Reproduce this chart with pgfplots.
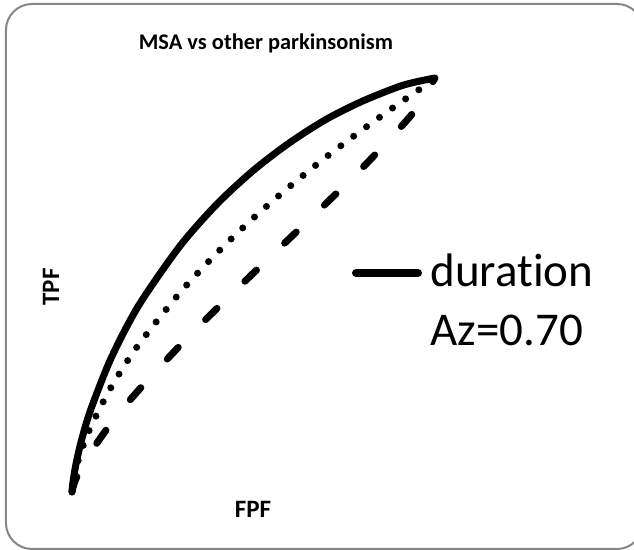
\documentclass[border=0pt]{standalone}
\usepackage{fontspec}
\setmainfont{Carlito}[Ligatures=CommonOff]
\usepackage{pgfplots}
\pgfplotsset{compat=1.18}
\definecolor{framegray}{RGB}{134,134,134}
\begin{document}
\begin{tikzpicture}
\clip (0,0) rectangle (317pt,275pt);
\draw[framegray, line width=1pt, rounded corners=13pt] (3pt,0.5pt) rectangle (321.5pt,273pt);
\begin{axis}[
  at={(36pt,29pt)}, anchor=south west,
  scale only axis, width=181.5pt, height=207pt,
  xmin=0, xmax=1, ymin=0, ymax=1,
  axis lines=none, ticks=none, clip=false,
]
% solid
\addplot[black, line width=3.5pt, smooth] coordinates {
(0,0) (0.002,0.019) (0.01,0.063) (0.025,0.121) (0.05,0.195) (0.1,0.308)
(0.15,0.398) (0.2,0.473) (0.3,0.597) (0.4,0.696) (0.5,0.777) (0.6,0.844)
(0.7,0.900) (0.8,0.944) (0.9,0.979) (0.95,0.991) (1,1)};
% dotted
\addplot[black, line width=3.5pt, line cap=round, dash pattern=on 0pt off 8pt, smooth] coordinates {
(0,0) (0.002,0.018) (0.01,0.053) (0.025,0.098) (0.05,0.154) (0.1,0.241)
(0.15,0.313) (0.2,0.375) (0.3,0.484) (0.4,0.578) (0.5,0.662) (0.6,0.738)
(0.7,0.809) (0.8,0.875) (0.9,0.938) (0.95,0.968) (1,1)};
% dashed
\addplot[black, line width=3.5pt, line cap=round, dash pattern=on 8pt off 19.5pt, smooth] coordinates {
(0,0) (0.002,0.009) (0.01,0.030) (0.025,0.057) (0.05,0.094) (0.1,0.157)
(0.15,0.212) (0.2,0.262) (0.3,0.356) (0.4,0.444) (0.5,0.529) (0.6,0.613)
(0.7,0.697) (0.8,0.783) (0.9,0.876) (0.95,0.928) (1,1)};
\end{axis}
\node[anchor=base, inner sep=0pt, font=\fontsize{11.2}{13}\selectfont\bfseries] at (133pt,250pt) {MSA vs other parkinsonism};
\node[anchor=base, rotate=90, inner sep=0pt, font=\fontsize{12.5}{15}\selectfont\bfseries] at (29.5pt,131.5pt) {TPF};
\node[anchor=base, inner sep=0pt, font=\fontsize{12.5}{15}\selectfont\bfseries] at (126.5pt,16pt) {FPF};
\draw[black, line width=4pt, line cap=round] (178pt,138.5pt) -- (209pt,138.5pt);
\node[anchor=base west, inner sep=0pt, font=\fontsize{23.5}{28}\selectfont] at (215pt,131.5pt) {duration};
\node[anchor=base west, inner sep=0pt, font=\fontsize{23.5}{28}\selectfont] at (215pt,102pt) {Az=0.70};
\end{tikzpicture}
\end{document}
